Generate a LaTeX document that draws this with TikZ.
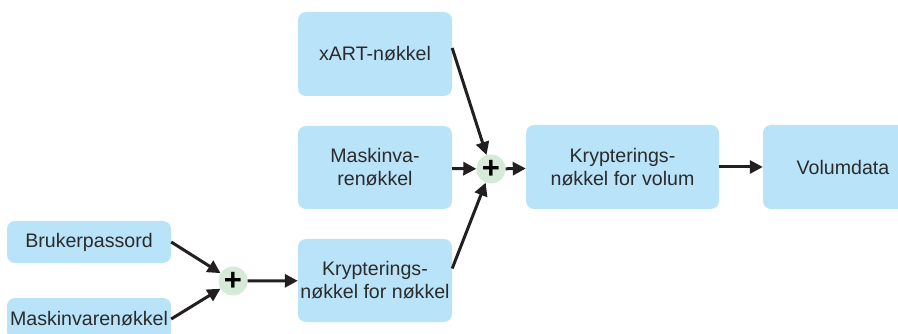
\documentclass[tikz,border=0pt]{standalone}
\usepackage{fontspec}
\setmainfont{Liberation Sans}
\usetikzlibrary{arrows.meta}
\definecolor{cleblue}{HTML}{B9E3F9}
\definecolor{plusgreen}{HTML}{D5EAD8}
\definecolor{textgray}{HTML}{2B2B2B}
\definecolor{pildark}{HTML}{231F20}
\begin{document}
\begin{tikzpicture}[x=1pt,y=-1pt]
\tikzset{cle/.style={fill=cleblue, rounded corners=8pt, align=center, text=textgray, inner sep=0pt, font=\fontsize{19.6}{23}\selectfont},
plussum/.style={circle, fill=plusgreen, minimum size=29pt, inner sep=0pt, font=\fontsize{31}{31}\selectfont\bfseries},
pil/.style={draw=pildark, line width=3pt, -{Triangle[length=13pt,width=13pt]}}}
\clip (0,0) rectangle (898,334);
\node[cle, minimum width=154pt, minimum height=84pt] (xart) at (375,54) {xART-nøkkel};
\node[cle, minimum width=154pt, minimum height=83pt] (mvn) at (375,167.5) {Maskinva-\\renøkkel};
\node[cle, minimum width=154pt, minimum height=83pt] (kfn) at (375,280.5) {Krypterings-\\nøkkel for nøkkel};
\node[cle, minimum width=193pt, minimum height=84pt] (kfv) at (622.5,167) {Krypterings-\\nøkkel for volum};
\node[cle, minimum width=160pt, minimum height=84pt] (vol) at (843,167) {Volumdata};
\node[cle, minimum width=164pt, minimum height=42pt] (bruk) at (89,242) {Brukerpassord};
\node[cle, minimum width=164pt, minimum height=42pt] (mask) at (89,319) {Maskinvarenøkkel};
\node[plussum] (sum1) at (233,281) {+};
\node[plussum] (sum2) at (491,169) {+};
\draw[pil] (bruk.east) -- (sum1);
\draw[pil] (mask.east) -- (sum1);
\draw[pil] (sum1) -- (kfn);
\draw[pil] ([yshift=6pt]xart.east) -- (sum2);
\draw[pil] (mvn) -- (sum2);
\draw[pil] ([yshift=12pt]kfn.east) -- (sum2);
\draw[pil] (sum2) -- (kfv);
\draw[pil] (kfv) -- (vol);
\end{tikzpicture}
\end{document}
